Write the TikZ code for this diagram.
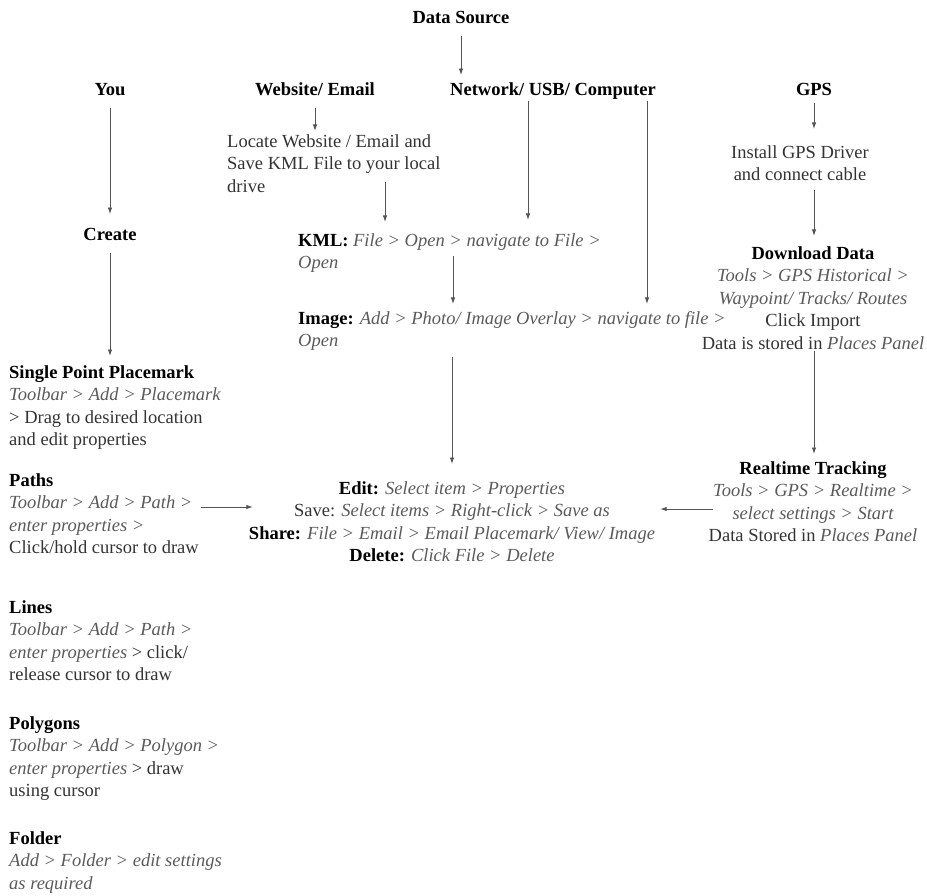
\documentclass[tikz,border=0pt]{standalone}
\usepackage{fontspec}
\setmainfont{Liberation Serif}
\usetikzlibrary{arrows.meta}
\definecolor{textgray}{HTML}{333333}
\definecolor{menugray}{HTML}{5A5A5A}
\definecolor{linegray}{HTML}{555555}
\newcommand{\menuit}[1]{{\itshape\color{menugray}#1}}
\newcommand{\blockhead}[1]{{\bfseries\color{black}#1}}
\tikzset{
  heading/.style={font=\fontsize{18.5}{22.5}\selectfont\bfseries, text=black, inner sep=0pt, anchor=base, execute at begin node=\strut},
  block/.style={font=\fontsize{18.5}{22.5}\selectfont, text=textgray, inner sep=0pt, execute at begin node=\strut, execute at end node=\strut},
  left block/.style={block, align=left, anchor=north west},
  centre block/.style={block, align=center, anchor=north},
  link/.style={arrows={-Latex[length=6.5pt,width=4.5pt]}, draw=linegray, line width=0.9pt, shorten <=5pt, shorten >=5pt}
}

\begin{document}
\begin{tikzpicture}[x=1pt,y=-1pt]
  \useasboundingbox (0,-4) rectangle (927,892);

  \node[heading] at (461,20) (source) {Data Source};
  \node[heading] at (110,92) (you) {You};
  \node[heading] at (315,92) (web) {Website/ Email};
  \node[heading] at (553,92) (net) {Network/ USB/ Computer};
  \node[heading] at (814,92) (gps) {GPS};
  \node[heading] at (110,237) (create) {Create};

  \node[left block] at (227,130) (locate) {Locate Website / Email and\\Save KML File to your local\\drive};
  \node[centre block] at (800,141) (driver) {Install GPS Driver\\and connect cable};
  \node[centre block] at (813,242) (download) {\blockhead{Download Data}\\\menuit{Tools > GPS Historical >}\\\menuit{Waypoint/ Tracks/ Routes}\\Click Import\\Data is stored in \menuit{Places Panel}};
  \node[centre block] at (813,457) (realtime) {\blockhead{Realtime Tracking}\\\menuit{Tools > GPS > Realtime >}\\\menuit{select settings > Start}\\Data Stored in \menuit{Places Panel}};
  \node[left block] at (298,229) (kml) {\blockhead{KML:} \menuit{File > Open > navigate to File >}\\\menuit{Open}};
  \node[left block] at (298,307) (image) {\blockhead{Image:} \menuit{Add > Photo/ Image Overlay > navigate to file >}\\\menuit{Open}};
  \node[centre block] at (452,477) (edit) {\blockhead{Edit:} \menuit{Select item > Properties}\\Save: \menuit{Select items > Right-click > Save as}\\\blockhead{Share:} \menuit{File > Email > Email Placemark/ View/ Image}\\\blockhead{Delete:} \menuit{Click File > Delete}};

  \node[left block] at (9,361) (point) {\blockhead{Single Point Placemark}\\\menuit{Toolbar > Add > Placemark}\\> Drag to desired location\\and edit properties};
  \node[left block] at (9,469) (paths) {\blockhead{Paths}\\\menuit{Toolbar > Add > Path >}\\\menuit{enter properties >}\\Click/hold cursor to draw};
  \node[left block] at (9,596) (lines) {\blockhead{Lines}\\\menuit{Toolbar > Add > Path >}\\\menuit{enter properties} > click/\\release cursor to draw};
  \node[left block] at (9,712) (polygons) {\blockhead{Polygons}\\\menuit{Toolbar > Add > Polygon >}\\\menuit{enter properties} > draw\\using cursor};
  \node[left block] at (9,827) (folder) {\blockhead{Folder}\\\menuit{Add > Folder > edit settings}\\\menuit{as required}};

  \draw[link] (source.south) -- (source.south |- net.north);
  \draw[link, shorten >=11pt] (you.south) -- (you.south |- create.north);
  \draw[link, shorten >=9pt] (create.south) -- (create.south |- point.north);
  \draw[link, shorten >=3pt] (web.south) -- (web.south |- locate.north);

  \coordinate (locate out) at (385,178);
  \draw[link, shorten <=0pt, shorten >=11pt] (locate out) -- (locate out |- kml.north);
  \coordinate (net left) at (528,97);
  \draw[link, shorten <=0pt, shorten >=13pt] (net left) -- (net left |- kml.north);
  \coordinate (net right) at (647,97);
  \draw[link, shorten <=0pt, shorten >=7pt] (net right) -- (net right |- image.north);
  \coordinate (kml out) at (453,252);
  \draw[link, shorten <=0pt, shorten >=7pt] (kml out) -- (kml out |- image.north);
  \draw[link, shorten <=3pt, shorten >=17pt] (edit.north |- image.south) -- (edit.north);

  \draw[link, shorten <=0pt, shorten >=16pt] (gps.south) -- (gps.south |- driver.north);
  \draw[link, shorten <=3pt, shorten >=10pt] (gps.south |- driver.south) -- (gps.south |- download.north);
  \draw[link, shorten <=-5pt, shorten >=7pt] (gps.south |- download.south) -- (gps.south |- realtime.north);

  \coordinate (paths out) at (201,503);
  \draw[link, shorten <=0pt, shorten >=-4pt] (paths out) -- (paths out -| edit.west);
  \coordinate (tracking out) at (713,505);
  \draw[link, shorten <=0pt] (tracking out) -- (tracking out -| edit.east);
\end{tikzpicture}
\end{document}
